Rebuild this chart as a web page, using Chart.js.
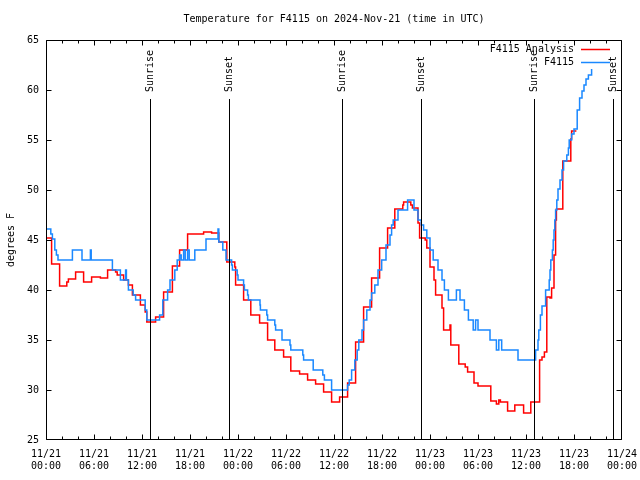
<!DOCTYPE html>
<html>
<head>
<meta charset="utf-8">
<script src="https://cdn.jsdelivr.net/npm/chart.js@4"></script>
<style>
  html, body { margin: 0; padding: 0; background: #fff; }
</style>
</head>
<body>
<canvas id="chart" width="640" height="480"></canvas>
<script>
// hours since 11/21 00:00 UTC where a new value starts, and the value (deg F)
const analysisHours = [0,0.7,1.7,2.6,2.8,3.7,4.7,5.7,6.8,7.7,8.7,8.9,9.7,10.3,10.8,11.8,12.4,12.6,13.7,14.7,
  15.8,16.7,17.7,19.7,20.7,21.6,22.6,23.6,23.7,24.7,25.6,26.7,27.7,28.6,29.7,30.6,31.7,32.7,33.7,34.7,
  35.7,36.7,37.7,38.7,39.7,40.7,41.7,42.7,43.6,44.6,44.7,45.6,45.8,46.5,46.7,47.4,47.6,48.0,48.5,48.7,
  49.5,49.7,50.5,50.6,51.6,52.4,52.7,53.5,54.0,55.6,56.3,56.6,56.8,57.7,58.6,59.7,60.6,61.7,62.0,62.3,
  62.6,63.0,63.2,63.5,63.7,63.8,64.6,65.6,65.7,66.3];
const analysisTemps = [45.2,42.6,40.4,40.8,41.1,41.8,40.8,41.3,41.2,42.0,41.8,41.5,41.0,40.5,39.5,38.5,37.8,36.8,37.3,39.8,
  42.4,44.0,45.6,45.8,45.7,44.8,42.8,42.3,40.5,39.0,37.5,36.7,35.0,34.0,33.3,31.9,31.6,31.0,30.6,29.8,
  28.8,29.3,30.7,34.8,38.3,41.2,44.2,46.2,48.1,48.5,48.8,48.5,48.2,46.7,45.2,45.0,44.2,42.3,41.0,39.5,
  38.2,36.0,36.5,34.5,32.6,32.3,31.8,30.7,30.4,28.9,28.6,29.0,28.8,27.9,28.5,27.7,28.8,33.0,33.3,33.8,
  39.3,39.2,40.2,43.5,47.0,48.1,52.9,55.1,55.9,55.9];

const stationHours = [0,0.6,0.8,1.1,1.3,1.5,3.3,4.5,5.55,5.65,8.3,9.3,9.95,10.05,10.3,10.9,11.2,12.4,12.6,14.2,
  14.6,15.2,15.5,16.1,16.4,16.7,16.9,17.2,17.4,17.7,17.9,18.6,20.0,21.5,21.6,22.1,22.5,23.2,23.3,23.9,
  24.0,24.7,24.8,25.2,25.3,26.75,26.8,27.6,27.7,28.6,28.7,29.5,30.5,30.6,32.1,32.2,33.4,34.6,34.8,35.7,
  37.7,37.9,38.2,38.6,38.9,39.1,39.5,39.7,40.1,40.5,40.7,41.1,41.5,41.96,42.5,43.0,43.2,43.4,44.0,45.2,
  46.0,46.5,46.9,47.2,47.6,48.0,48.4,49.0,49.5,49.8,50.3,51.3,51.75,52.3,52.8,53.4,53.7,54.0,55.5,56.3,
  56.6,56.96,59.0,61.2,61.5,61.6,61.8,62.0,62.45,62.9,63.0,63.1,63.3,63.4,63.5,63.6,63.7,63.85,64.0,64.25,
  64.5,64.7,65.1,65.3,65.4,65.7,66.0,66.4,66.7,67.0,67.25,67.5,67.8,68.2];
const stationTemps = [46.1,45.6,45.1,44.0,43.5,43.0,44.0,43.0,44.0,43.0,42.0,41.0,42.0,41.0,40.0,39.5,39.0,38.0,37.0,37.5,
  39.0,40.0,41.0,42.0,43.0,43.5,43.0,44.0,43.0,44.0,43.0,44.0,45.1,46.1,44.8,44.0,43.0,42.5,42.0,41.5,
  41.0,40.5,40.0,39.5,39.0,38.5,38.0,37.5,37.0,36.5,36.0,35.0,34.5,34.0,33.5,33.0,32.0,31.5,31.0,30.0,
  30.5,31.0,32.0,33.0,34.0,35.0,36.0,37.0,38.0,39.0,39.7,40.5,42.0,43.0,44.5,45.5,46.5,47.0,48.0,49.0,
  48.0,47.0,46.5,46.0,45.2,44.0,43.0,42.0,41.0,40.0,39.0,40.0,39.0,38.0,37.0,36.0,37.0,36.0,35.0,34.0,
  35.0,34.0,33.0,34.0,35.0,36.0,37.5,38.4,40.0,41.0,42.0,43.0,44.0,45.0,46.0,47.0,48.0,49.0,50.1,51.0,
  52.0,52.9,53.5,54.2,55.0,55.6,56.1,58.0,59.2,59.9,60.5,61.1,61.5,62.1];

const xTickLabels = [
  ['11/21','00:00'],['11/21','06:00'],['11/21','12:00'],['11/21','18:00'],
  ['11/22','00:00'],['11/22','06:00'],['11/22','12:00'],['11/22','18:00'],
  ['11/23','00:00'],['11/23','06:00'],['11/23','12:00'],['11/23','18:00'],
  ['11/24','00:00']
];

const sunHours = [13.05, 22.9, 37.0, 46.9, 61.05, 70.85];
const sunLabels = ['Sunrise','Sunset','Sunrise','Sunset','Sunrise','Sunset'];

const FONT = 'DejaVu Sans Mono';

function toPoints(hours, temps) {
  return hours.map((h, i) => ({x: h, y: temps[i]}));
}

// gnuplot-like frame: box, inward ticks, sun markers, legend
const decorations = {
  id: 'decorations',
  afterDraw(chart) {
    const ctx = chart.ctx;
    const a = chart.chartArea;
    const xs = chart.scales.x, ys = chart.scales.y;
    const L = Math.round(a.left) + 0.5, R = Math.round(a.right) - 0.5;
    const T = Math.round(a.top) + 0.5, B = Math.round(a.bottom) - 0.5;
    const clampX = (p) => Math.min(Math.max(p, L), R);
    const clampY = (p) => Math.min(Math.max(p, T), B);
    ctx.save();
    ctx.strokeStyle = '#000';
    ctx.lineWidth = 1;
    ctx.beginPath();
    ctx.rect(L, T, R - L, B - T);
    // x ticks every 2 hours, major every 6
    for (let h = 0; h <= 72; h += 2) {
      const px = clampX(Math.round(xs.getPixelForValue(h)) + 0.5);
      const len = h % 6 === 0 ? 5 : 3;
      ctx.moveTo(px, B); ctx.lineTo(px, B - len);
      ctx.moveTo(px, T); ctx.lineTo(px, T + len);
    }
    for (let v = 25; v <= 65; v += 5) {
      const py = clampY(Math.round(ys.getPixelForValue(v)) + 0.5);
      ctx.moveTo(L, py); ctx.lineTo(L + 5, py);
      ctx.moveTo(R, py); ctx.lineTo(R - 5, py);
    }
    ctx.stroke();

    // sunrise / sunset markers
    ctx.font = '10px "' + FONT + '"';
    ctx.fillStyle = '#000';
    sunHours.forEach((h, i) => {
      const px = Math.round(xs.getPixelForValue(h)) + 0.5;
      ctx.beginPath();
      ctx.moveTo(px, a.top + 59);
      ctx.lineTo(px, B);
      ctx.stroke();
      ctx.save();
      ctx.translate(px, a.top + 52);
      ctx.rotate(-Math.PI / 2);
      ctx.textAlign = 'left';
      ctx.textBaseline = 'middle';
      ctx.fillText(sunLabels[i], 0, 0);
      ctx.restore();
    });

    // legend
    chart.data.datasets.forEach((ds, i) => {
      const y = a.top + 9.5 + i * 13;
      ctx.textAlign = 'right';
      ctx.textBaseline = 'middle';
      ctx.fillText(ds.label, a.right - 48, y);
      ctx.strokeStyle = ds.borderColor;
      ctx.lineWidth = 1.5;
      ctx.beginPath();
      ctx.moveTo(a.right - 41, y);
      ctx.lineTo(a.right - 12, y);
      ctx.stroke();
    });
    ctx.restore();
  }
};

new Chart(document.getElementById('chart'), {
  type: 'line',
  data: {
    datasets: [
      {
        label: 'F4115 Analysis',
        data: toPoints(analysisHours, analysisTemps),
        borderColor: '#ff0000',
        borderWidth: 1.5,
        stepped: 'before',
        pointRadius: 0,
        fill: false,
        order: 1
      },
      {
        label: 'F4115',
        data: toPoints(stationHours, stationTemps),
        borderColor: '#1a88ff',
        borderWidth: 1.5,
        stepped: 'before',
        pointRadius: 0,
        fill: false,
        order: 0
      }
    ]
  },
  options: {
    responsive: false,
    animation: false,
    layout: {padding: {top: 0, right: 18, bottom: 0, left: 0}},
    plugins: {
      legend: {display: false},
      tooltip: {enabled: false},
      title: {
        display: true,
        text: 'Temperature for F4115 on 2024-Nov-21 (time in UTC)',
        color: '#000',
        fullSize: false,
        font: {family: FONT, size: 10, weight: 'normal', lineHeight: 1.2},
        padding: {top: 13, bottom: 15}
      }
    },
    scales: {
      x: {
        type: 'linear',
        min: 0,
        max: 72,
        grid: {display: false, drawTicks: false},
        border: {display: false},
        ticks: {
          stepSize: 6,
          autoSkip: false,
          maxRotation: 0,
          padding: 8,
          color: '#000',
          font: {family: FONT, size: 10, lineHeight: 1.25},
          callback: (v) => xTickLabels[Math.round(v / 6)]
        },
        afterFit: (s) => { s.height = 40; s.paddingLeft = 0; s.paddingRight = 0; }
      },
      y: {
        min: 25,
        max: 65,
        grid: {display: false, drawTicks: false},
        border: {display: false},
        ticks: {
          stepSize: 5,
          padding: 7,
          color: '#000',
          font: {family: FONT, size: 10}
        },
        title: {
          display: true,
          text: 'degrees F',
          color: '#000',
          font: {family: FONT, size: 10, lineHeight: 1.2},
          padding: {top: 5, bottom: 0}
        },
        afterFit: (s) => { s.width = 46; s.paddingTop = 0; s.paddingBottom = 0; }
      }
    }
  },
  plugins: [decorations]
});
</script>
</body>
</html>
